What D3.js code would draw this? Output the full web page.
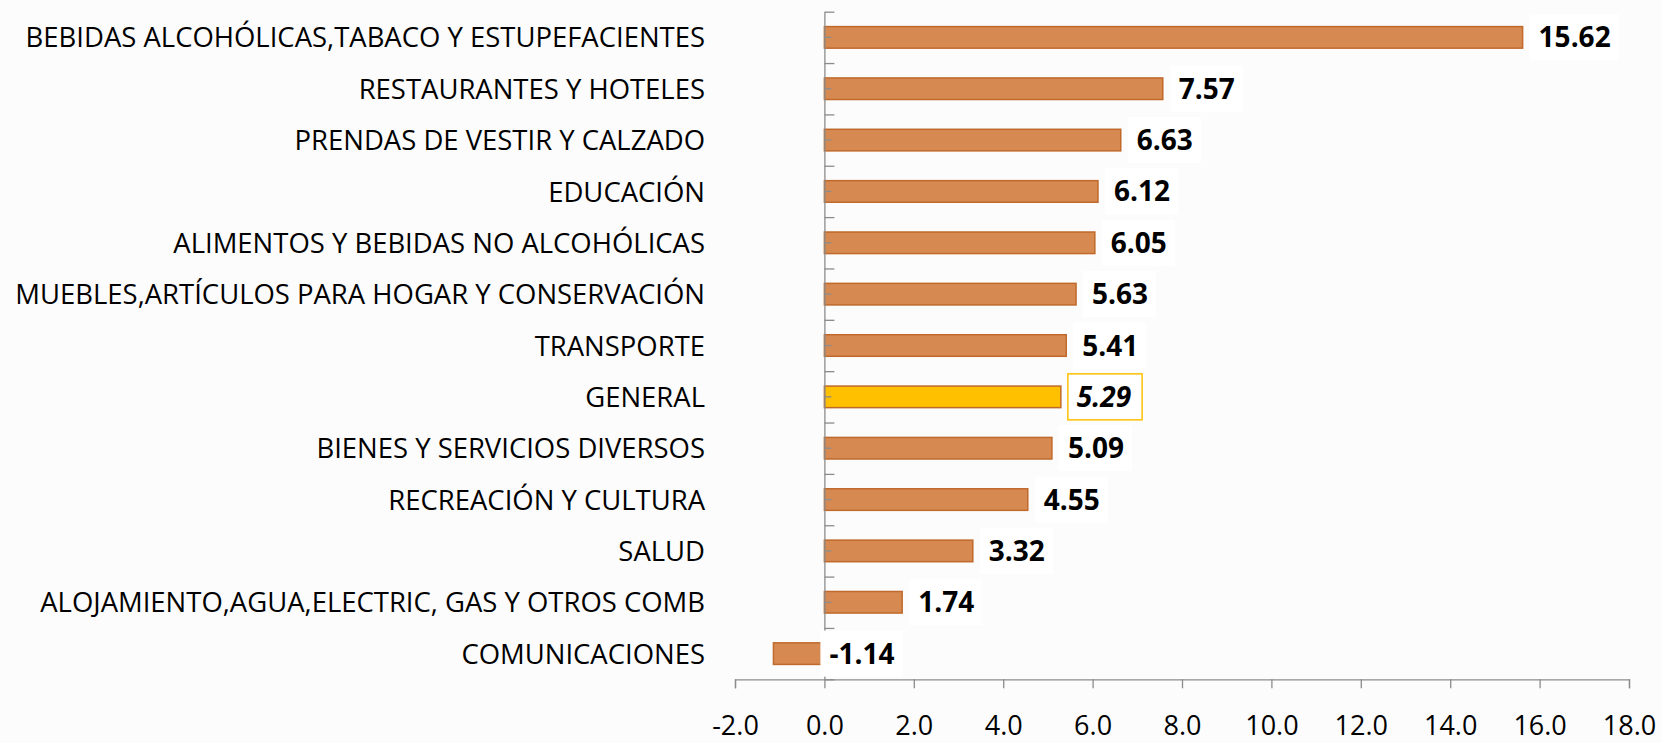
<!DOCTYPE html>
<html>
<head>
<meta charset="utf-8">
<script src="https://cdn.jsdelivr.net/npm/d3@7"></script>
<style>
  body { margin: 0; background: #fcfcfc; }
  svg { display: block; }
  svg text { font-family: "Open Sans", sans-serif; }
</style>
</head>
<body>
<div id="container"></div>
<script>
/* DATA */
const categories = [
  "BEBIDAS ALCOHÓLICAS,TABACO Y ESTUPEFACIENTES",
  "RESTAURANTES Y HOTELES",
  "PRENDAS DE VESTIR Y CALZADO",
  "EDUCACIÓN",
  "ALIMENTOS Y BEBIDAS NO ALCOHÓLICAS",
  "MUEBLES,ARTÍCULOS PARA HOGAR Y CONSERVACIÓN",
  "TRANSPORTE",
  "GENERAL",
  "BIENES Y SERVICIOS DIVERSOS",
  "RECREACIÓN Y CULTURA",
  "SALUD",
  "ALOJAMIENTO,AGUA,ELECTRIC, GAS Y OTROS COMB",
  "COMUNICACIONES"
];
const values = [15.62, 7.57, 6.63, 6.12, 6.05, 5.63, 5.41, 5.29, 5.09, 4.55, 3.32, 1.74, -1.14];
const xTicks = [-2, 0, 2, 4, 6, 8, 10, 12, 14, 16, 18];
const highlight = "GENERAL";

const data = categories.map((c, i) => ({ cat: c, value: values[i] }));

/* CONSTANTS */
const width = 1662, height = 743;
const axisColor = "#8c8c8c";
// plain hyphen for negatives, like the original
const fmt1 = d => d3.format(".1f")(d).replace("−", "-");
const fmt2 = d => d3.format(".2f")(d).replace("−", "-");

const svg = d3.select("#container")
  .append("svg")
  .attr("width", width)
  .attr("height", height);

// SCALES
const xScale = d3.scaleLinear()
  .domain([-2, 18])
  .range([735, 1629]);

const yScale = d3.scaleBand()
  .domain(categories)
  .range([11.7, 679.3])
  .paddingInner(0.58)
  .paddingOuter(0.29);

// boundary ticks of the category axis
const yEdge = d3.scaleLinear()
  .domain([0, categories.length])
  .range([11.7, 679.3]);

// BARS
svg.selectAll(".bar")
  .data(data)
  .join("rect")
  .attr("class", "bar")
  .attr("x", d => xScale(Math.min(0, d.value)))
  .attr("width", d => Math.abs(xScale(d.value) - xScale(0)))
  .attr("y", d => yScale(d.cat))
  .attr("height", yScale.bandwidth())
  .attr("fill", d => d.cat === highlight ? "#ffc000" : "#d68a52")
  .attr("stroke", "#c0692b")
  .attr("stroke-width", 1.5);

// X AXIS
const xAxis = d3.axisBottom(xScale)
  .tickValues(xTicks)
  .tickSize(9)
  .tickFormat(fmt1);

const gx = svg.append("g")
  .attr("transform", `translate(0,${yEdge.range()[1]})`)
  .call(xAxis);
gx.select(".domain").attr("stroke", axisColor).attr("stroke-width", 1.3);
gx.selectAll(".tick line").attr("stroke", axisColor).attr("stroke-width", 1.3);
gx.selectAll(".tick text")
  .attr("y", 56)
  .attr("dy", 0)
  .attr("fill", "#000")
  .style("font-family", "'Open Sans', sans-serif")
  .style("font-size", "27px");

// Y AXIS (line + ticks)
const gy = svg.append("g")
  .attr("transform", `translate(${xScale(0)},0)`)
  .call(d3.axisRight(yEdge).ticks(categories.length).tickSize(10).tickSizeOuter(0).tickFormat(""));
gy.select(".domain").attr("stroke", axisColor).attr("stroke-width", 1.3);
gy.selectAll(".tick line").attr("stroke", axisColor).attr("stroke-width", 1.3);

const gyMid = svg.append("g")
  .attr("transform", `translate(${xScale(0)},0)`)
  .call(d3.axisRight(yScale).tickSize(7).tickFormat(""));
gyMid.select(".domain").remove();
gyMid.selectAll(".tick line").attr("stroke", axisColor).attr("stroke-width", 1.3);

// CATEGORY LABELS
const gl = svg.append("g")
  .attr("transform", "translate(705,0)")
  .call(d3.axisLeft(yScale).tickSize(0).tickPadding(0));
gl.select(".domain").remove();
const catText = gl.selectAll(".tick text")
  .attr("fill", "#000")
  .attr("dy", "0.36em")
  .style("font-family", "'Open Sans', sans-serif")
  .style("font-size", "28px");

// squeeze the labels a little so the longest one ends near the left edge
const longest = d3.max(catText.nodes(), n => n.getComputedTextLength());
const squeeze = Math.min(1, 690 / longest);
catText.attr("transform", `scale(${squeeze},1)`);

// DATA LABELS
const labels = svg.selectAll(".lbl")
  .data(data)
  .join("g")
  .attr("class", "lbl")
  .attr("transform", d => {
    const x0 = d.value >= 0 ? xScale(d.value) + 7 : xScale(0) - 4;
    return `translate(${x0},${yScale(d.cat) + yScale.bandwidth() / 2})`;
  });

labels.append("rect");
labels.append("text")
  .attr("x", 9)
  .attr("y", 10)
  .style("font-size", "28px")
  .style("font-weight", "bold")
  .style("font-style", d => d.cat === highlight ? "italic" : "normal")
  .attr("fill", "#000")
  .text(d => fmt2(d.value));

labels.each(function (d) {
  const t = d3.select(this).select("text").node().getComputedTextLength();
  d3.select(this).select("rect")
    .attr("x", 0)
    .attr("y", -23)
    .attr("width", t + (d.cat === highlight ? 20 : 17))
    .attr("height", 46)
    .attr("fill", "#fff")
    .attr("stroke", d.cat === highlight ? "#ffc000" : "none")
    .attr("stroke-width", 1.5);
});
</script>
</body>
</html>
